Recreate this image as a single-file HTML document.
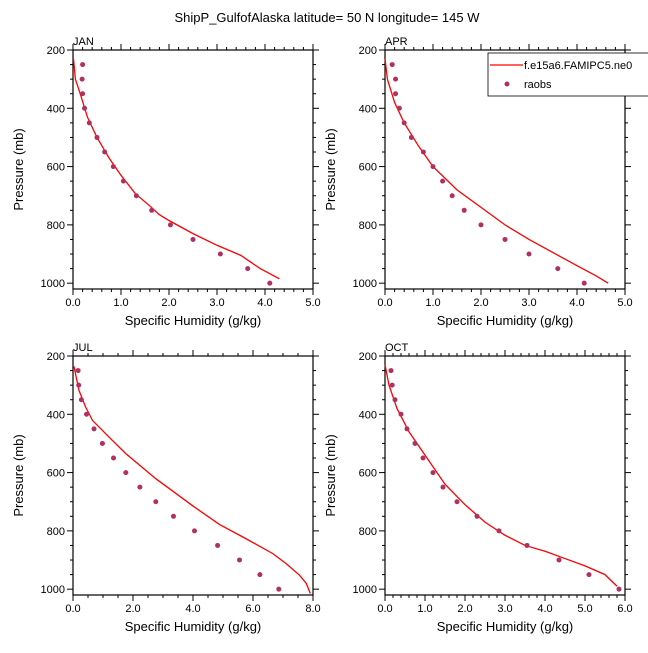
<!DOCTYPE html><html><head><style>body{margin:0;background:#fff}svg{font-family:"Liberation Sans",sans-serif}</style></head><body>
<svg id="s" width="648" height="648" xmlns="http://www.w3.org/2000/svg"></svg>
<script>
const s=document.getElementById('s');let h='';
h+='<text x="327" y="22" font-size="13" text-anchor="middle">ShipP_GulfofAlaska  latitude= 50 N longitude= 145 W</text>';
const P=[
{L:73,T:50,xm:5,mj:1,mn:0.2,name:'JAN',obs:[.2,.19,.2,.24,.34,.5,.66,.84,1.05,1.32,1.64,2.03,2.5,3.07,3.64,4.1],
m:[[0.01,230],[0.05,300],[0.15,350],[0.3,430],[0.5,500],[0.75,570],[1,630],[1.3,693],[1.6,735],[1.8,765],[2,785],[2.5,830],[3,870],[3.5,905],[3.9,950],[4.3,985]]},
{L:385,T:50,xm:5,mj:1,mn:0.2,name:'APR',obs:[.15,.22,.22,.3,.4,.55,.8,1,1.2,1.4,1.65,2,2.5,3,3.6,4.15],
m:[[0,230],[0.05,300],[0.2,380],[0.4,450],[0.7,530],[1,600],[1.5,680],[2,740],[2.5,800],[3,850],[3.5,895],[4,940],[4.4,975],[4.65,1000]]},
{L:73,T:356,xm:8,mj:2,mn:0.5,name:'JUL',obs:[.17,.19,.28,.45,.70,.98,1.35,1.76,2.23,2.76,3.35,4.05,4.82,5.55,6.23,6.86],
m:[[0.03,235],[0.2,318],[0.42,375],[0.65,421],[1.2,478],[1.76,535],[2.76,621],[3.99,714],[4.88,778],[5.77,827],[6.66,878],[7.1,912],[7.55,952],[7.78,981],[7.91,1015]]},
{L:385,T:356,xm:6,mj:1,mn:0.2,name:'OCT',obs:[.15,.18,.25,.4,.55,.75,.95,1.2,1.45,1.8,2.3,2.85,3.55,4.35,5.1,5.85],
m:[[0,230],[0.1,300],[0.3,380],[0.6,460],[1,540],[1.5,640],[2,710],[2.5,770],[3,815],[3.5,850],[4,870],[4.5,895],[5,920],[5.5,950],[5.8,990]]}];
const W=240,H=239;
P.forEach(p=>{
 const X=v=>p.L+v/p.xm*W, Y=v=>p.T+(v-200)*H/820;
 h+=`<text x="${p.L}" y="${p.T-5}" font-size="11">${p.name}</text>`;
 h+=`<rect x="${p.L}" y="${p.T}" width="${W}" height="${H}" fill="none" stroke="#000" stroke-width="1.2"/>`;
 for(let pr=200;pr<=1000;pr+=50){const y=Y(pr),mj=pr%200==0,l=mj?6:3;
  h+=`<line x1="${p.L-l}" y1="${y}" x2="${p.L}" y2="${y}" stroke="#000"/><line x1="${p.L+W}" y1="${y}" x2="${p.L+W+l}" y2="${y}" stroke="#000"/>`;
  if(mj)h+=`<text x="${p.L-8}" y="${y+4}" font-size="11" text-anchor="end">${pr}</text>`;}
 const n=Math.round(p.xm/p.mn);
 for(let i=0;i<=n;i++){const x=X(i*p.mn);
  h+=`<line x1="${x}" y1="${p.T+H}" x2="${x}" y2="${p.T+H+3}" stroke="#000"/><line x1="${x}" y1="${p.T-3}" x2="${x}" y2="${p.T}" stroke="#000"/>`;}
 const nm=Math.round(p.xm/p.mj);
 for(let j=0;j<=nm;j++){const v=j*p.mj,x=X(v);
  h+=`<line x1="${x}" y1="${p.T+H}" x2="${x}" y2="${p.T+H+6}" stroke="#000"/><line x1="${x}" y1="${p.T-6}" x2="${x}" y2="${p.T}" stroke="#000"/>`;
  h+=`<text x="${x}" y="${p.T+H+17}" font-size="11" text-anchor="middle">${v.toFixed(1)}</text>`;}
 h+=`<text x="${p.L+W/2}" y="${p.T+H+36}" font-size="13" text-anchor="middle">Specific Humidity (g/kg)</text>`;
 h+=`<text transform="translate(${p.L-50},${p.T+H/2}) rotate(-90)" font-size="13" text-anchor="middle">Pressure (mb)</text>`;
 h+=`<polyline fill="none" stroke="#f00" stroke-width="1.3" points="${p.m.map(q=>X(q[0])+','+Y(q[1])).join(' ')}"/>`;
 p.obs.forEach((v,i)=>{h+=`<circle cx="${X(v)}" cy="${Y(250+50*i)}" r="2.5" fill="#b03060"/>`});
});
h+='<rect x="488" y="53" width="170" height="43" fill="#fff" stroke="#000" stroke-width="0.8"/>';
h+='<line x1="490" y1="65" x2="523" y2="65" stroke="#f00" stroke-width="1.3"/><text x="524" y="69" font-size="11">f.e15a6.FAMIPC5.ne0</text>';
h+='<circle cx="507" cy="84" r="2.5" fill="#b03060"/><text x="524" y="88" font-size="11">raobs</text>';
s.innerHTML=h;
</script></body></html>
